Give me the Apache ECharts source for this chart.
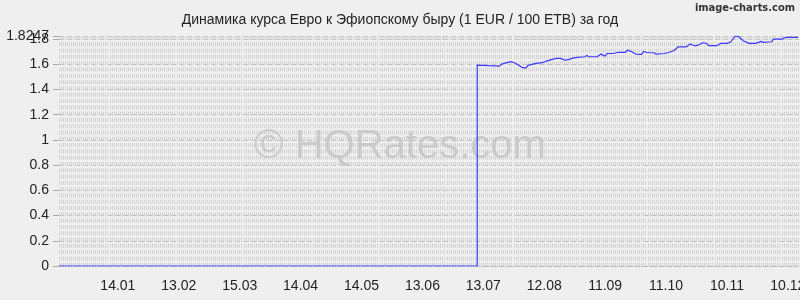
<!DOCTYPE html>
<html>
<head>
<meta charset="utf-8">
<script src="https://cdn.jsdelivr.net/npm/echarts@6/dist/echarts.min.js"></script>
<style>html,body{margin:0;padding:0;background:#efefef;}#c{width:800px;height:300px;}</style>
</head>
<body>
<div id="c"></div>
<script>
const titleText = 'Динамика курса Евро к Эфиопскому быру (1 EUR / 100 ETB) за год';
const dates = [
  '2013-12-16','2014-07-10','2014-07-10','2014-07-16','2014-07-21','2014-07-22','2014-07-26','2014-07-27',
  '2014-07-29','2014-08-01','2014-08-03','2014-08-04','2014-08-08','2014-08-11','2014-08-13','2014-08-16',
  '2014-08-18','2014-08-20','2014-08-22','2014-08-24','2014-08-26','2014-08-28','2014-09-01','2014-09-02',
  '2014-09-03','2014-09-07','2014-09-09','2014-09-11','2014-09-12','2014-09-15','2014-09-17','2014-09-21',
  '2014-09-22','2014-09-24','2014-09-26','2014-09-29','2014-09-30','2014-10-02','2014-10-05','2014-10-06',
  '2014-10-10','2014-10-12','2014-10-15','2014-10-17','2014-10-21','2014-10-23','2014-10-25','2014-10-27',
  '2014-10-29','2014-10-31','2014-11-01','2014-11-05','2014-11-07','2014-11-10','2014-11-12','2014-11-14',
  '2014-11-16','2014-11-18','2014-11-21','2014-11-24','2014-11-27','2014-11-28','2014-12-02','2014-12-03',
  '2014-12-07','2014-12-09','2014-12-13','2014-12-15'
];
const rates = [
  0, 0, 1.594, 1.589, 1.586, 1.602, 1.620, 1.620,
  1.607, 1.576, 1.570, 1.592, 1.607, 1.613, 1.626, 1.639,
  1.647, 1.647, 1.634, 1.637, 1.649, 1.655, 1.660, 1.671,
  1.660, 1.660, 1.681, 1.665, 1.686, 1.686, 1.694, 1.694,
  1.713, 1.702, 1.681, 1.679, 1.702, 1.692, 1.692, 1.681,
  1.686, 1.692, 1.710, 1.739, 1.739, 1.761, 1.747, 1.753,
  1.771, 1.767, 1.748, 1.748, 1.766, 1.766, 1.779, 1.8247,
  1.818, 1.787, 1.766, 1.766, 1.782, 1.774, 1.779, 1.800,
  1.800, 1.813, 1.813, 1.813
];
const tickDates = ['2014-01-14','2014-02-13','2014-03-15','2014-04-14','2014-05-14','2014-06-13',
  '2014-07-13','2014-08-12','2014-09-11','2014-10-11','2014-11-10','2014-12-10'];
const tickLabels = ['14.01','13.02','15.03','14.04','14.05','13.06','13.07','12.08','11.09','11.10','10.11','10.12'];
const yTicks = [0, 0.2, 0.4, 0.6, 0.8, 1, 1.2, 1.4, 1.6, 1.8];
const yMaxTick = [1.8247];
const startDate = '2013-12-16';
const endDate = '2014-12-15';
const yMax = 1.8247;

function toDay(s) {
  const p = s.split('-').map(Number);
  const q = startDate.split('-').map(Number);
  return Math.round((Date.UTC(p[0], p[1] - 1, p[2]) - Date.UTC(q[0], q[1] - 1, q[2])) / 86400000);
}
const tickDays = tickDates.map(toDay);
const dayCount = toDay(endDate);

const chart = echarts.init(document.getElementById('c'), null, {renderer: 'canvas'});
const font = 'Liberation Sans, Arial, sans-serif';
const labelBase = {margin: 10, color: '#222', fontFamily: font, fontSize: 14, hideOverlap: false};
chart.setOption({
  backgroundColor: '#efefef',
  animation: false,
  title: {
    text: titleText, left: 'center', top: 8,
    textStyle: {fontFamily: font, fontSize: 14, fontWeight: 'normal', color: '#222'}
  },
  graphic: [
    {type: 'text', right: 5, top: 3, z: 10,
     style: {text: 'image-charts.com', font: 'bold 11px "DejaVu Sans Condensed", "Liberation Sans", sans-serif', fill: '#333'}},
    {type: 'text', left: 'center', top: 127, z: 1,
     style: {text: '© HQRates.com', font: '40px "Liberation Sans", Arial, sans-serif', fill: '#c6c6c6', opacity: 0.85}}
  ],
  grid: {left: 59, right: 2, top: 36, bottom: 34, outerBoundsMode: 'none', containLabel: false},
  xAxis: [
    {
      type: 'value', min: 0, max: dayCount, offset: 9,
      axisLine: {show: true, lineStyle: {color: '#bbb', type: [1, 2]}},
      axisTick: {show: false},
      splitLine: {show: false},
      axisLabel: {
        customValues: tickDays, margin: 4, color: '#222', fontFamily: font, fontSize: 14, hideOverlap: false,
        formatter: function (v) { const i = tickDays.indexOf(Math.round(v)); return i >= 0 ? tickLabels[i] : ''; }
      }
    },
    {
      type: 'value', min: 0, max: dayCount, interval: 1, position: 'bottom',
      axisLine: {show: false}, axisTick: {show: false}, axisLabel: {show: false},
      splitLine: {show: true, lineStyle: {color: '#d2d2d2', width: 1, type: [4, 2.3]}}
    }
  ],
  yAxis: [
    {
      type: 'value', min: 0, max: yMax, interval: 0.2, position: 'left',
      axisLine: {show: false},
      axisTick: {show: true, length: 6, lineStyle: {color: '#aaa'}},
      axisLabel: Object.assign({customValues: yTicks}, labelBase),
      splitLine: {show: true, lineStyle: {color: '#bdbdbd', width: 1, type: [5, 3]}}
    },
    {
      type: 'value', min: 0, max: yMax, position: 'left',
      axisLine: {show: false}, axisTick: {show: false}, splitLine: {show: false},
      axisLabel: Object.assign({customValues: yMaxTick}, labelBase)
    }
  ],
  series: [{
    type: 'line', xAxisIndex: 0, yAxisIndex: 0, showSymbol: false, symbol: 'none',
    lineStyle: {color: '#3a3aff', width: 1.2},
    data: dates.map((d, i) => [toDay(d), rates[i]]),
    z: 5
  }]
});
</script>
</body>
</html>
